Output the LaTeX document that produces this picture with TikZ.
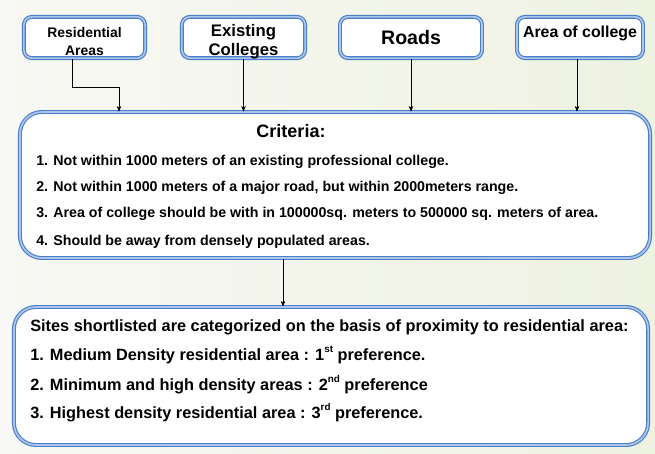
\documentclass[tikz,border=0pt]{standalone}
\usepackage{fontspec}
\setmainfont{Liberation Sans}
\usetikzlibrary{arrows}

\definecolor{boxblue}{RGB}{74,126,201}
\definecolor{boxlight}{RGB}{172,198,236}
\definecolor{bgleft}{RGB}{248,248,244}
\definecolor{bgright}{RGB}{238,242,225}

\newcommand{\ordsup}[1]{\raisebox{0.9ex}{\fontsize{7}{7}\selectfont #1}}

\begin{document}
\begin{tikzpicture}[x=0.025cm, y=-0.025cm]

\tikzstyle{topbox}=[draw=boxblue, double=boxlight, double distance=1.2pt, line width=0.8pt, rounded corners=0.2cm, fill=white, align=center, inner sep=0pt, minimum height=1.03cm]
\tikzstyle{bigbox}=[draw=boxblue, double=boxlight, double distance=1.2pt, line width=0.8pt, rounded corners=0.55cm, fill=white, inner sep=0pt]
\tikzstyle{item}=[anchor=base west, inner sep=0pt, font=\bfseries\fontsize{10.1}{12}\selectfont]
\tikzstyle{siteitem}=[anchor=base west, inner sep=0pt, font=\bfseries\fontsize{11.6}{13}\selectfont]
\tikzstyle{arrow}=[->, >=stealth', thin]

% slide background
\shade [left color=bgleft, right color=bgright] (0,0) rectangle (655,453);

% input layers
\node (res) [topbox, minimum width=3.03cm, text height=0.9cm, text depth=0pt, font=\bfseries\fontsize{9.9}{12.8}\selectfont] at (84.5,37.5) {Residential\\Areas};
\node (exist) [topbox, minimum width=3.08cm, text height=0.92cm, text depth=0pt, font=\bfseries\fontsize{11.9}{13.5}\selectfont] at (243.5,37.5) {Existing\\Colleges};
\node (roads) [topbox, minimum width=3.55cm, font=\bfseries\fontsize{13.9}{16}\selectfont] at (411,37.5) {Roads};
\node (area) [topbox, minimum width=3.15cm, text depth=0.3cm, font=\bfseries\fontsize{11.3}{13}\selectfont] at (580,37.5) {Area of college};

% criteria box
\node (crit) [bigbox, minimum width=15.75cm, minimum height=3.65cm] at (335,185) {};
\node (crittitle) [font=\bfseries\fontsize{12.8}{14}\selectfont] at (291,131) {Criteria:};
\node (c1) [item] at (36,165) {1. Not within 1000 meters of an existing professional college.};
\node (c2) [item] at (36,191) {2. Not within 1000 meters of a major road, but within 2000meters range.};
\node (c3) [item] at (36,217) {3. Area of college should be with in 100000sq. meters to 500000 sq. meters of area.};
\node (c4) [item] at (36,245) {4. Should be away from densely populated areas.};

% shortlisted sites
\node (sites) [bigbox, minimum width=15.85cm, minimum height=3.45cm] at (331,376) {};
\node (s0) [siteitem] at (30,331) {Sites shortlisted are categorized on the basis of proximity to residential area:};
\node (s1) [siteitem] at (30,360) {1. Medium Density residential area : 1\ordsup{st} preference.};
\node (s2) [siteitem] at (30,390) {2. Minimum and high density areas : 2\ordsup{nd} preference};
\node (s3) [siteitem] at (30,418) {3. Highest density residential area : 3\ordsup{rd} preference.};

% connectors
\coordinate (bend) at (119,87);
\coordinate (drop) at (283,0);
\draw [arrow] ([xshift=-0.31cm]res.south) |- (bend) -- (bend |- crit.north);
\draw [arrow] (exist.south) -- (exist.south |- crit.north);
\draw [arrow] (roads.south) -- (roads.south |- crit.north);
\draw [arrow] ([xshift=-0.075cm]area.south) -- ([xshift=-0.075cm]area.south |- crit.north);
\draw [arrow] (crit.south -| drop) -- (sites.north -| drop);

\end{tikzpicture}
\end{document}
